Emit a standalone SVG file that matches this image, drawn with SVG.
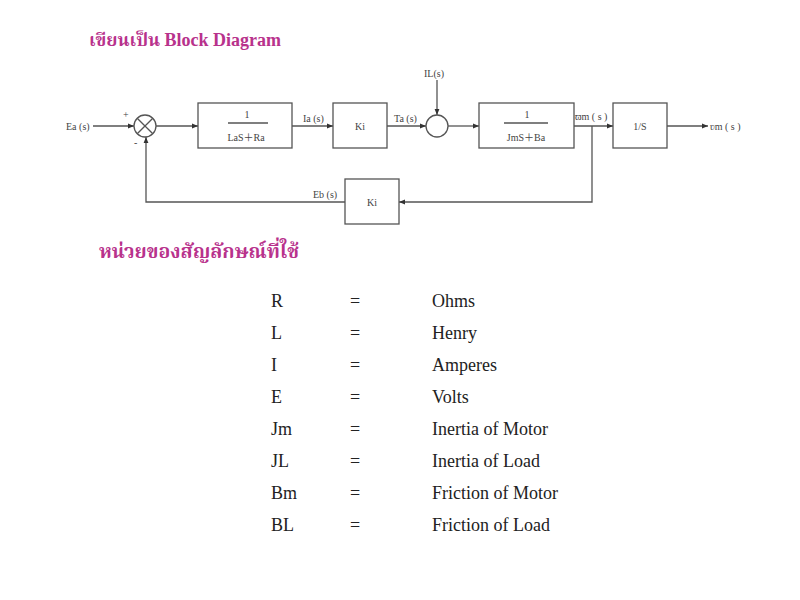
<svg xmlns="http://www.w3.org/2000/svg" width="800" height="600" viewBox="0 0 800 600">
<style>
.bg{fill:#fff}
.blk{fill:#fff;stroke:#555;stroke-width:1.3}
.ln{fill:none;stroke:#555;stroke-width:1.3}
.arr{fill:none;stroke:#555;stroke-width:1.3;marker-end:url(#ah)}
.t{font-family:"Liberation Serif","Noto Sans CJK SC",serif;font-size:10px;fill:#444}
.tc{font-family:"Liberation Serif","Noto Sans CJK SC",serif;font-size:10px;fill:#444;text-anchor:middle}
.h{font-family:"Liberation Serif","Noto Serif Thai","Noto Sans Thai",serif;font-weight:bold;fill:#b8328c}
.tb{font-family:"Liberation Serif",serif;font-size:18px;fill:#222}
</style>
<defs>
<marker id="ah" viewBox="0 0 10 10" refX="10" refY="5" markerWidth="6" markerHeight="6" markerUnits="userSpaceOnUse" orient="auto">
<path d="M0,1 L10,5 L0,9 z" fill="#333"/>
</marker>
</defs>
<rect class="bg" x="0" y="0" width="800" height="600"/>
<text class="h" x="89" y="46" font-size="18">เขียนเป็น Block Diagram</text>
<g id="connectors">
<line class="arr" x1="93" y1="126" x2="134" y2="126"/>
<line class="arr" x1="156" y1="126" x2="198" y2="126"/>
<line class="arr" x1="292" y1="126" x2="333" y2="126"/>
<line class="arr" x1="387" y1="126" x2="426" y2="126"/>
<line class="arr" x1="437" y1="80" x2="437" y2="115"/>
<line class="arr" x1="448" y1="126" x2="479" y2="126"/>
<line class="arr" x1="574" y1="126" x2="613" y2="126"/>
<line class="arr" x1="667" y1="126" x2="708" y2="126"/>
<polyline class="arr" points="592,126 592,202 399,202"/>
<polyline class="arr" points="345,202 146,202 146,137"/>
</g>
<g id="sum1">
<circle class="blk" cx="145" cy="126" r="11"/>
<line class="ln" x1="137.2" y1="118.2" x2="152.8" y2="133.8"/>
<line class="ln" x1="152.8" y1="118.2" x2="137.2" y2="133.8"/>
<text class="t" x="123" y="118">+</text>
<text class="t" x="134" y="146">-</text>
</g>
<g id="block1">
<rect class="blk" x="198" y="103" width="94" height="45"/>
<line class="ln" x1="228" y1="123" x2="268" y2="123" stroke-width="1"/>
<text class="tc" x="247" y="118">1</text>
<text class="tc" x="246" y="141">LaS＋Ra</text>
</g>
<g id="ki1">
<rect class="blk" x="333" y="103" width="54" height="45"/>
<text class="tc" x="360" y="130">Ki</text>
</g>
<g id="sum2">
<circle class="blk" cx="437" cy="126" r="11"/>
</g>
<g id="block3">
<rect class="blk" x="479" y="103" width="95" height="45"/>
<line class="ln" x1="504" y1="123" x2="548" y2="123" stroke-width="1"/>
<text class="tc" x="527" y="118">1</text>
<text class="tc" x="526" y="141">JmS＋Ba</text>
</g>
<g id="integ">
<rect class="blk" x="613" y="103" width="54" height="45"/>
<text class="tc" x="640" y="130">1/S</text>
</g>
<g id="ki2">
<rect class="blk" x="345" y="179" width="54" height="45"/>
<text class="tc" x="372" y="206">Ki</text>
</g>
<g id="labels">
<text class="t" x="66" y="130">Ea (s)</text>
<text class="t" x="303" y="122">Ia (s)</text>
<text class="t" x="394" y="122">Ta (s)</text>
<text class="t" x="424" y="77">IL(s)</text>
<text class="t" x="575" y="120" font-size="11">ϖm ( s )</text>
<text class="t" x="710" y="130" font-size="11">ʋm ( s )</text>
<text class="t" x="313" y="198">Eb (s)</text>
</g>
<text class="h" x="99" y="258" font-size="19.5">หน่วยของสัญลักษณ์ที่ใช้</text>
<g id="units">
<text class="tb" x="271" y="307">R</text><text class="tb" x="350" y="307">=</text><text class="tb" x="432" y="307">Ohms</text>
<text class="tb" x="271" y="339">L</text><text class="tb" x="350" y="339">=</text><text class="tb" x="432" y="339">Henry</text>
<text class="tb" x="271" y="371">I</text><text class="tb" x="350" y="371">=</text><text class="tb" x="432" y="371">Amperes</text>
<text class="tb" x="271" y="403">E</text><text class="tb" x="350" y="403">=</text><text class="tb" x="432" y="403">Volts</text>
<text class="tb" x="271" y="435">Jm</text><text class="tb" x="350" y="435">=</text><text class="tb" x="432" y="435">Inertia of Motor</text>
<text class="tb" x="271" y="467">JL</text><text class="tb" x="350" y="467">=</text><text class="tb" x="432" y="467">Inertia of Load</text>
<text class="tb" x="271" y="499">Bm</text><text class="tb" x="350" y="499">=</text><text class="tb" x="432" y="499">Friction of Motor</text>
<text class="tb" x="271" y="531">BL</text><text class="tb" x="350" y="531">=</text><text class="tb" x="432" y="531">Friction of Load</text>
</g>
</svg>
